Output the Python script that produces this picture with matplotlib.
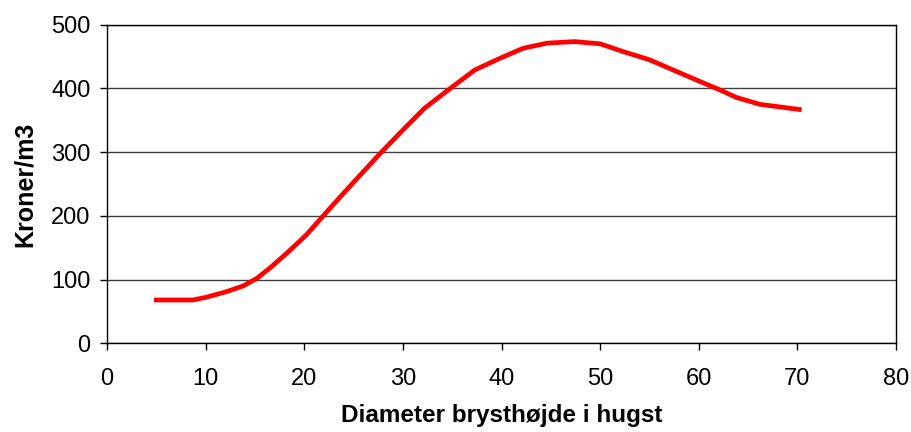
import matplotlib
matplotlib.use("Agg")
import matplotlib.pyplot as plt

diameter = [5, 8.7, 10, 12.1, 13.8, 15.2, 16.5, 18.2, 20.2, 22.9, 24.9, 27.7, 29.7,
            32.2, 34.8, 37.3, 39.8, 42.2, 44.6, 47.4, 50.0, 52.3, 55.0, 57.4, 59.8,
            62.1, 63.8, 66.2, 70.2]
kroner = [68, 68, 72, 81, 90, 102, 118, 141, 170, 217, 251, 298, 330,
          369, 400, 429, 447, 463, 471, 473.5, 470, 458, 445, 429, 413,
          398, 386, 375, 367]
xticks = [0, 10, 20, 30, 40, 50, 60, 70, 80]
yticks = [0, 100, 200, 300, 400, 500]

plt.rcParams['font.family'] = ['Liberation Sans', 'DejaVu Sans']

fig = plt.figure(figsize=(9.11, 4.32), dpi=100)
ax = fig.add_axes([0.1175, 0.2053, 0.866, 0.7375])
ax.plot(diameter, kroner, color='#ff0000', lw=3.4, solid_joinstyle='round', zorder=3)
ax.set_xlim(0, 80)
ax.set_ylim(0, 500)
ax.set_xticks(xticks)
ax.set_yticks(yticks)
ax.yaxis.grid(True, color='#404040', lw=1.0)
ax.set_axisbelow(True)
for s in ax.spines.values():
    s.set_color('black')
    s.set_linewidth(1.0)
ax.tick_params(axis='both', direction='out', length=5, width=1, labelsize=17, colors='black')
ax.tick_params(axis='x', pad=13)
ax.tick_params(axis='y', pad=7)
ax.set_xlabel('Diameter brysthøjde i hugst', fontsize=17.5, fontweight='bold', labelpad=10)
ax.set_ylabel('Kroner/m3', fontsize=18, fontweight='bold', labelpad=10)
fig.savefig('out.png', dpi=100)
